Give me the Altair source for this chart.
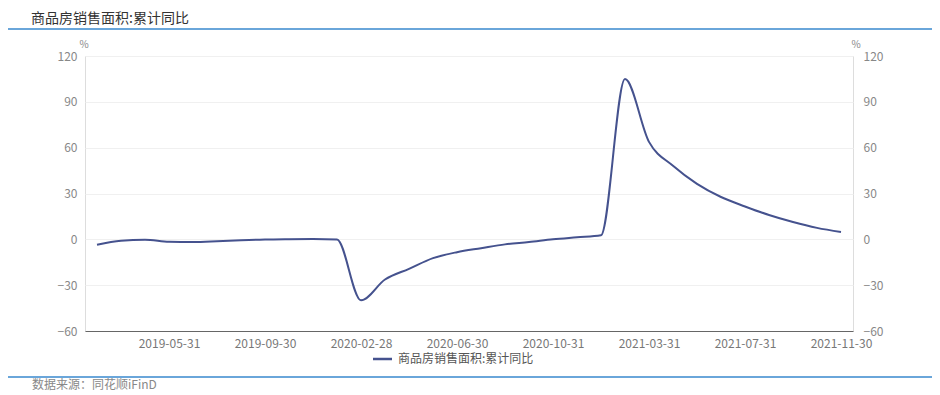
import altair as alt
import pandas as pd

dates = [
    "2019-02-28", "2019-03-31", "2019-04-30", "2019-05-31", "2019-06-30", "2019-07-31",
    "2019-08-31", "2019-09-30", "2019-10-31", "2019-11-30", "2019-12-31",
    "2020-02-28", "2020-03-31", "2020-04-30", "2020-05-31", "2020-06-30", "2020-07-31",
    "2020-08-31", "2020-09-30", "2020-10-31", "2020-11-30", "2020-12-31",
    "2021-02-28", "2021-03-31", "2021-04-30", "2021-05-31", "2021-06-30", "2021-07-31",
    "2021-08-31", "2021-09-30", "2021-10-31", "2021-11-30",
]
values = [
    -3.6, -0.9, -0.3, -1.6, -1.8, -1.3, -0.6, -0.1, 0.1, 0.2, -0.1,
    -39.9, -26.3, -19.3, -12.3, -8.4, -5.8, -3.3, -1.8, 0.0, 1.3, 2.6,
    104.9, 63.8, 48.1, 36.3, 27.7, 21.5, 15.9, 11.3, 7.5, 4.8,
]
x_tick_labels = ["2019-05-31", "2019-09-30", "2020-02-28", "2020-06-30",
                 "2020-10-31", "2021-03-31", "2021-07-31", "2021-11-30"]
y_ticks = [-60, -30, 0, 30, 60, 90, 120]

title_text = "商品房销售面积:累计同比"
series_name = "商品房销售面积:累计同比"
source_text = "数据来源：同花顺iFinD"

FONT = "Noto Sans CJK SC"
W, H = 768, 275
LINE_COLOR = "#45528e"
BLUE = "#6aa6da"

df = pd.DataFrame({"date": dates, "value": values})

xenc = alt.X(
    "date:O", sort=None,
    scale=alt.Scale(type="point", padding=0.5),
    axis=alt.Axis(values=x_tick_labels, labelAngle=0, ticks=False, grid=False,
                  domainColor="#666666", domainWidth=1, labelColor="#777777",
                  labelFontSize=12, labelPadding=7, labelFont=FONT, title=None),
)
yscale = alt.Scale(domain=[-60, 120], nice=False, zero=False)

left = alt.Chart(df).mark_line(interpolate="monotone", color=LINE_COLOR, strokeWidth=2).encode(
    x=xenc,
    y=alt.Y("value:Q", scale=yscale,
            axis=alt.Axis(values=y_ticks, grid=True, gridColor="#f0f0f0", domain=False, ticks=False,
                          labelColor="#888888", labelFontSize=12, labelPadding=8, labelFont=FONT,
                          title=None, orient="left")),
)
right = alt.Chart(df).mark_line(interpolate="monotone", color=LINE_COLOR, strokeWidth=2, opacity=0).encode(
    x=xenc,
    y=alt.Y("value:Q", scale=yscale,
            axis=alt.Axis(values=y_ticks, grid=False, domain=False, ticks=False,
                          labelColor="#888888", labelFontSize=12, labelPadding=10, labelFont=FONT,
                          title=None, orient="right")),
)


def text_layer(txt, x, y, size, color, align="left"):
    return alt.Chart(pd.DataFrame({"t": [txt]})).mark_text(
        align=align, baseline="middle", fontSize=size, color=color, font=FONT
    ).encode(text="t:N", x=alt.value(x), y=alt.value(y))


def hrule(x1, x2, y, color, width):
    return alt.Chart(pd.DataFrame({"k": [0]})).mark_rule(color=color, strokeWidth=width).encode(
        x=alt.value(x1), x2=alt.value(x2), y=alt.value(y))


title = text_layer(title_text, -54, -37.5, 14, "#333333")
pct_left = text_layer("%", -1, -11, 10, "#888888", align="center")
pct_right = text_layer("%", W + 3, -11, 10, "#888888", align="center")
legend_line = hrule(288, 307, 303, LINE_COLOR, 2.5)
legend_text = text_layer(series_name, 313, 303, 12, "#555555")
footer = text_layer(source_text, -53, 329, 12, "#888888")
top_line = hrule(-77, W + 79, -27, BLUE, 2)
bottom_line = hrule(-77, W + 79, 321, BLUE, 2)

chart = alt.layer(
    left, right, title, pct_left, pct_right, legend_line, legend_text, footer, top_line, bottom_line
).resolve_scale(y="independent").properties(
    width=W, height=H,
    autosize=alt.AutoSizeParams(type="none"),
    padding={"left": 77, "top": 48, "right": 79, "bottom": 64},
).configure_view(stroke=None).configure(font=FONT)

chart.save("out.html", embed_options={"renderer": "svg", "actions": False})
